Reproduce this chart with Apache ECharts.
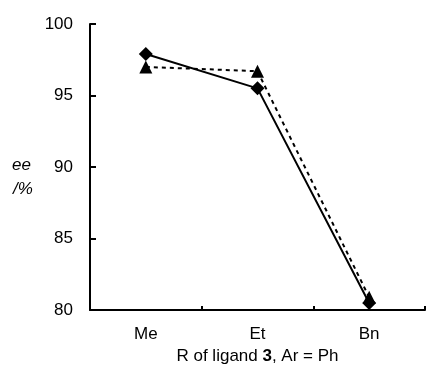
<!DOCTYPE html>
<html><head><meta charset="utf-8">
<script src="https://cdn.jsdelivr.net/npm/echarts@6/dist/echarts.min.js"></script>
<style>html,body{margin:0;padding:0;background:#fff}#c{width:428px;height:370px}</style>
</head><body><div id="c"></div>
<script>
var categories = ['Me', 'Et', 'Bn'];
var diamondSeries = [97.9, 95.5, 80.5];
var triangleSeries = [97.0, 96.7, 80.9];
var yTicks = [80, 85, 90, 95, 100];

var chart = echarts.init(document.getElementById('c'));
var font = 'Liberation Sans, Arial, sans-serif';
chart.setOption({
  animation: false,
  backgroundColor: '#fff',
  grid: {left: 90, right: 3, top: 24, bottom: 54.5},
  xAxis: {
    type: 'category', data: categories, boundaryGap: true,
    name: '{a|R of ligand }{b|3}{a|, Ar = Ph}',
    nameLocation: 'middle', nameGap: 37,
    nameTextStyle: {rich: {a: {fontFamily: font, fontSize: 17, color: '#000'}, b: {fontFamily: font, fontSize: 17, fontWeight: 'bold', color: '#000'}}},
    axisLine: {lineStyle: {color: '#000', width: 2}},
    axisTick: {show: true, inside: true, length: 4, lineStyle: {color: '#000', width: 2}, alignWithLabel: false},
    axisLabel: {color: '#000', fontFamily: font, fontSize: 17, margin: 16},
    splitLine: {show: false}
  },
  yAxis: {
    type: 'value', min: yTicks[0], max: yTicks[yTicks.length - 1], interval: 5,
    axisLine: {show: true, lineStyle: {color: '#000', width: 2}},
    axisTick: {show: true, inside: true, length: 6, lineStyle: {color: '#000', width: 2}},
    axisLabel: {color: '#000', fontFamily: font, fontSize: 17, margin: 17},
    splitLine: {show: false}
  },
  graphic: [
    {type: 'text', left: 12, top: 157, style: {text: 'ee', font: 'italic 17px ' + font, fill: '#000'}},
    {type: 'text', left: 13, top: 181, style: {text: '/%', font: 'italic 17px ' + font, fill: '#000'}}
  ],
  series: [
    {type: 'line', data: triangleSeries, symbol: 'triangle', symbolSize: 13,
     lineStyle: {color: '#000', width: 2, type: [4, 4]}, itemStyle: {color: '#000'}, z: 2},
    {type: 'line', data: diamondSeries, symbol: 'diamond', symbolSize: 14,
     lineStyle: {color: '#000', width: 2}, itemStyle: {color: '#000'}, z: 3}
  ]
});
</script></body></html>
